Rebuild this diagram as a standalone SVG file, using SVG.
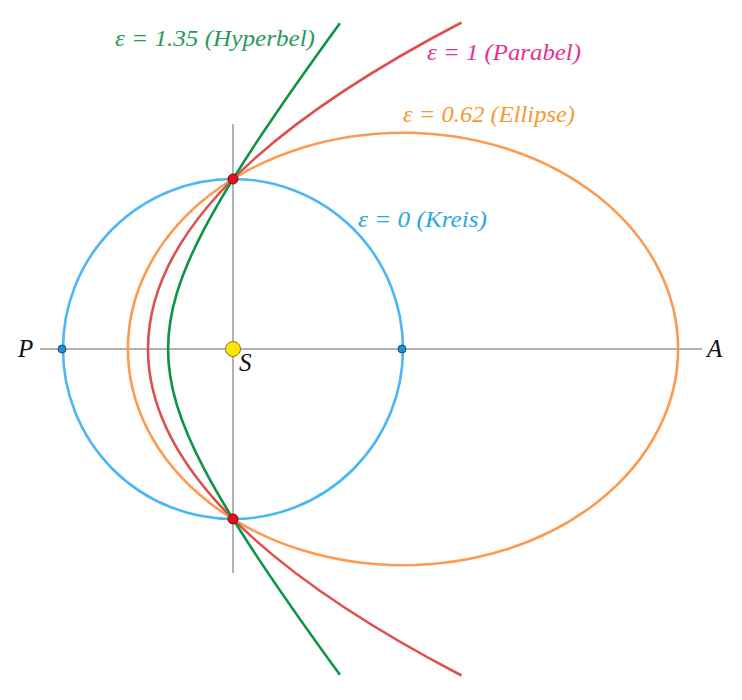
<svg xmlns="http://www.w3.org/2000/svg" width="742" height="700" viewBox="0 0 742 700">
<style>
.axis{stroke:#9a9a9a;stroke-width:1.5;fill:none}
.curve{fill:none;stroke-width:2.6}
text{font-family:'Liberation Serif','Times New Roman',serif;font-style:italic}
.lbl{font-size:24px}
.pt{font-size:25px;fill:#111}
</style>
<rect width="742" height="700" fill="#fff"/>
<g id="axes">
<line class="axis" x1="40" y1="349" x2="702" y2="349"/>
<line class="axis" x1="233" y1="124" x2="233" y2="573"/>
</g>
<g id="curves">
<circle id="kreis" class="curve" cx="233" cy="349" r="170" stroke="#4db6f5"/>
<ellipse id="ellipse" class="curve" cx="403" cy="349" rx="275.1" ry="216.3" stroke="#fe9a50"/>
<path id="parabel" class="curve" stroke="#dc5050" d="M461.5 22.5 Q-165.5 349 461.5 675.5"/>
<path id="hyperbel" class="curve" stroke="#0d9444" d="M339.88 23.15 C305.21 70.81 278.06 109.62 256.13 142.87 C234.2 176.12 217.51 203.76 204.65 228.15 C191.79 252.54 182.78 273.63 176.85 293.23 C170.92 312.83 168.07 330.91 168.07 349 C168.07 367.09 170.92 385.17 176.85 404.77 C182.78 424.37 191.79 445.46 204.65 469.85 C217.51 494.24 234.2 521.88 256.13 555.13 C278.06 588.38 305.21 627.19 339.88 674.85"/>
</g>
<g id="points">
<circle cx="62" cy="349" r="4" fill="#1f8fd0" stroke="#1a4d7a" stroke-width="1"/>
<circle cx="402" cy="349" r="4" fill="#1f8fd0" stroke="#1a4d7a" stroke-width="1"/>
<circle cx="233" cy="179" r="5" fill="#e3101c" stroke="#7a0a10" stroke-width="1"/>
<circle cx="233" cy="519" r="5" fill="#e3101c" stroke="#7a0a10" stroke-width="1"/>
<circle id="S" cx="233" cy="349" r="7.5" fill="#ffe400" stroke="#8a7a20" stroke-width="1"/>
</g>
<g id="labels">
<text class="lbl" x="115" y="46" fill="#2a9a5a" textLength="200" lengthAdjust="spacingAndGlyphs">ε = 1.35 (Hyperbel)</text>
<text class="lbl" x="427" y="60" fill="#e8318f" textLength="154" lengthAdjust="spacingAndGlyphs">ε = 1 (Parabel)</text>
<text class="lbl" x="403" y="122" fill="#f59a32" textLength="172" lengthAdjust="spacingAndGlyphs">ε = 0.62 (Ellipse)</text>
<text class="lbl" x="358" y="227" fill="#2aa8e0" textLength="129" lengthAdjust="spacingAndGlyphs">ε = 0 (Kreis)</text>
<text class="pt" x="18" y="357">P</text>
<text class="pt" x="707" y="357">A</text>
<text class="pt" x="239" y="371">S</text>
</g>
</svg>
